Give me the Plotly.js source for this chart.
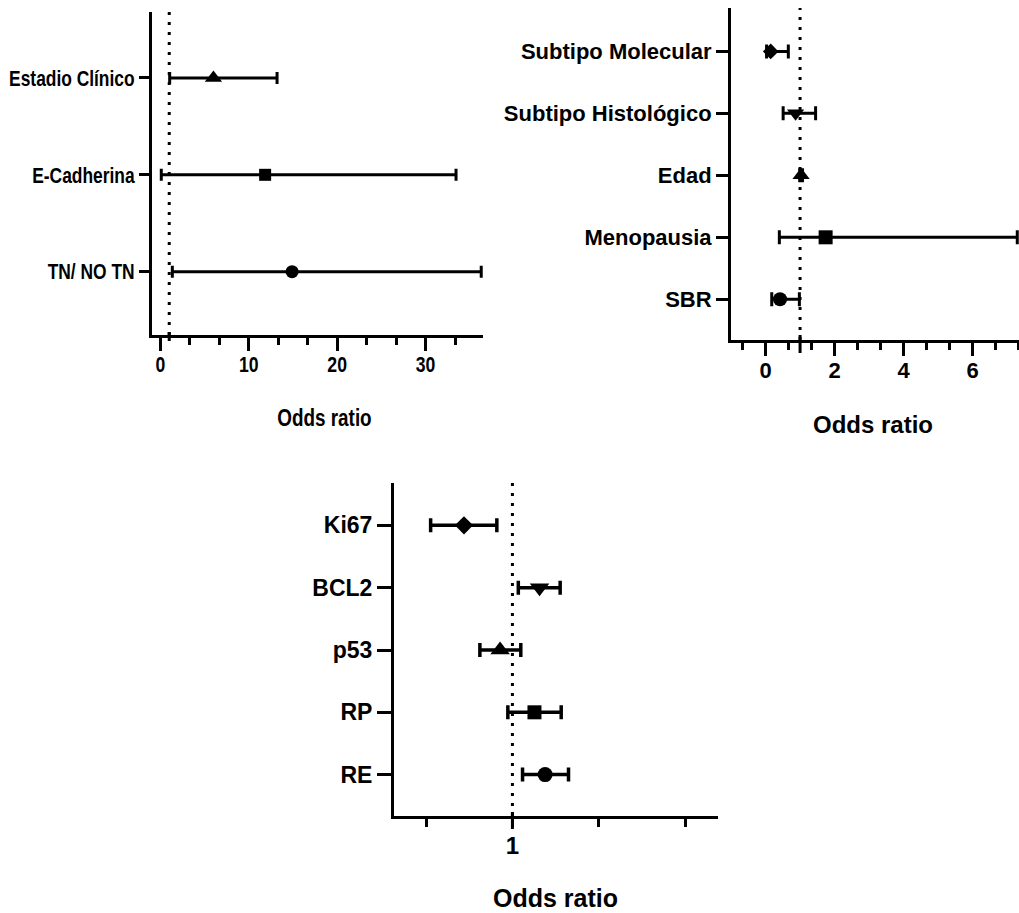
<!DOCTYPE html>
<html>
<head>
<meta charset="utf-8">
<script src="https://cdn.plot.ly/plotly-3.0.1.min.js"></script>
<style>
  html, body { margin: 0; padding: 0; background: #fff; }
  #chart { width: 1019px; height: 913px; }
</style>
</head>
<body>
<div id="chart"></div>
<script>
// Clinical variables (top left)
const catA = ['Estadio Clínico', 'E-Cadherina', 'TN/ NO TN'];
const orA  = [6.0, 11.85, 14.9];
const loA  = [1.05, 0.1, 1.35];
const hiA  = [13.2, 33.45, 36.3];
const symA = ['triangle-up', 'square', 'circle'];
const tickA = [0, 10, 20, 30];

// Clinical / pathological variables (top right)
const catB = ['Subtipo Molecular', 'Subtipo Histológico', 'Edad', 'Menopausia', 'SBR'];
const orB  = [0.15, 0.87, 1.03, 1.74, 0.42];
const loB  = [0.03, 0.51, 0.99, 0.40, 0.18];
const hiB  = [0.66, 1.45, 1.07, 7.29, 0.98];
const symB = ['diamond', 'triangle-down', 'triangle-up', 'square', 'circle'];
const tickB = [0, 2, 4, 6];

// Immunohistochemical markers (bottom, log scale)
const catC = ['Ki67', 'BCL2', 'p53', 'RP', 'RE'];
const orC  = [0.275, 2.06, 0.72, 1.80, 2.39];
const loC  = [0.113, 1.17, 0.42, 0.885, 1.31];
const hiC  = [0.66, 3.57, 1.25, 3.67, 4.46];
const symC = ['diamond', 'triangle-down', 'triangle-up', 'square', 'circle'];
const tickC = [0.1, 1, 10, 100];
const tickTextC = ['', '1', '', ''];

const W = 1019, H = 913;
const px = v => v / W;           // horizontal pixel -> paper
const py = v => 1 - v / H;       // vertical pixel -> paper

const rowPos = cats => cats.map((_, i) => cats.length - i);

function forest(cats, or, lo, hi, sym, xa, ya, size, thick, cap) {
  return {
    type: 'scatter', mode: 'markers',
    x: or, y: rowPos(cats), xaxis: xa, yaxis: ya,
    marker: { symbol: sym, size: size, color: '#000', opacity: 1, line: { width: 0 } },
    error_x: {
      type: 'data', symmetric: false,
      array: or.map((v, i) => hi[i] - v),
      arrayminus: or.map((v, i) => v - lo[i]),
      color: '#000', thickness: thick, width: cap
    },
    hoverinfo: 'x+y', showlegend: false, cliponaxis: false
  };
}

const sans = 'Liberation Sans, Arial, sans-serif';

const traces = [
  forest(catA, orA, loA, hiA, symA, 'x', 'y', [15, 12, 13], 3, 6),
  forest(catB, orB, loB, hiB, symB, 'x2', 'y2', [12, 15, 15, 14, 14], 3, 7),
  forest(catC, orC, loC, hiC, symC, 'x3', 'y3', [14, 17, 17, 14, 15], 3.5, 7)
];

const axLine = { showline: true, linecolor: '#000', linewidth: 3, zeroline: false,
                 showgrid: false, ticks: 'outside', tickcolor: '#000', tickwidth: 3 };

// Panel frames (pixel positions of the axis lines)
const dA = { l: 152, r: 483, t: 12, b: 335 };
const dB = { l: 731, r: 1019, t: 8, b: 340 };
const dC = { l: 394, r: 718, t: 483, b: 816 };

const layout = {
  width: W, height: H,
  margin: { l: 0, r: 0, t: 0, b: 0 },
  paper_bgcolor: '#fff', plot_bgcolor: '#fff',
  xaxis: Object.assign({}, axLine, {
    domain: [px(dA.l), px(dA.r)], anchor: 'y', range: [-0.95, 36.5],
    tickmode: 'array', tickvals: tickA, ticklen: 13, ticklabelstandoff: -5,
    tickfont: { family: sans, size: 22, color: '#000', weight: 'bold' },
    minor: { tickmode: 'array', tickvals: [10/3, 20/3, 40/3, 50/3, 70/3, 80/3, 100/3],
             ticks: 'outside', ticklen: 7, tickwidth: 3, tickcolor: '#000', showgrid: false }
  }),
  yaxis: Object.assign({}, axLine, {
    domain: [py(dA.b), py(dA.t)], anchor: 'x', range: [0.347, 3.68],
    tickmode: 'array', tickvals: rowPos(catA), ticktext: catA, ticklen: 10,
    tickfont: { family: sans, size: 22, color: '#000', weight: 'bold' }
  }),
  xaxis2: Object.assign({}, axLine, {
    domain: [px(dB.l), px(dB.r)], anchor: 'y2', range: [-1.0, 7.34],
    tickmode: 'array', tickvals: tickB, ticklen: 13, ticklabelstandoff: -4,
    tickfont: { family: sans, size: 22, color: '#000', weight: 'bold' },
    minor: { tickmode: 'array',
             tickvals: [-2/3, 2/3, 4/3, 8/3, 10/3, 14/3, 16/3, 20/3, 22/3],
             ticks: 'outside', ticklen: 7, tickwidth: 3, tickcolor: '#000', showgrid: false }
  }),
  yaxis2: Object.assign({}, axLine, {
    domain: [py(dB.b), py(dB.t)], anchor: 'x2', range: [0.343, 5.70],
    tickmode: 'array', tickvals: rowPos(catB), ticktext: catB, ticklen: 12,
    tickfont: { family: sans, size: 22, color: '#000', weight: 'bold' }
  }),
  xaxis3: Object.assign({}, axLine, {
    domain: [px(dC.l), px(dC.r)], anchor: 'y3', type: 'log', range: [-1.371, 2.38],
    tickmode: 'array', tickvals: tickC, ticktext: tickTextC, ticklen: 8, ticklabelstandoff: -2,
    tickfont: { family: sans, size: 24, color: '#000', weight: 'bold' }
  }),
  yaxis3: Object.assign({}, axLine, {
    domain: [py(dC.b), py(dC.t)], anchor: 'x3', range: [0.336, 5.68],
    tickmode: 'array', tickvals: rowPos(catC), ticktext: catC, ticklen: 14,
    tickfont: { family: sans, size: 23, color: '#000', weight: 'bold' }
  }),
  shapes: [
    // reference line at OR = 1
    { type: 'line', xref: 'x', yref: 'y domain', x0: 1, x1: 1, y0: 0, y1: 1,
      line: { color: '#000', width: 3, dash: '3px,7px' }, layer: 'below' },
    { type: 'line', xref: 'x2', yref: 'y2 domain', x0: 1, x1: 1, y0: 0, y1: 1,
      line: { color: '#000', width: 3, dash: '3px,7px' }, layer: 'below' },
    { type: 'line', xref: 'x3', yref: 'y3 domain', x0: 1, x1: 1, y0: 0, y1: 1,
      line: { color: '#000', width: 3, dash: '3px,7px' }, layer: 'below' },
    // short marks where the reference line meets each x axis
    { type: 'line', xref: 'x', yref: 'paper', x0: 1, x1: 1, y0: py(dA.b - 3), y1: py(dA.b + 6),
      line: { color: '#000', width: 3 } },
    { type: 'line', xref: 'x2', yref: 'paper', x0: 1, x1: 1, y0: py(dB.b - 5), y1: py(dB.b + 13),
      line: { color: '#000', width: 3 } },
    { type: 'line', xref: 'x3', yref: 'paper', x0: 1, x1: 1, y0: py(dC.b - 4), y1: py(dC.b + 13),
      line: { color: '#000', width: 3 } }
  ],
  annotations: [
    { text: 'Odds ratio', xref: 'paper', yref: 'paper', x: px(324), y: py(418),
      xanchor: 'center', yanchor: 'middle', showarrow: false,
      font: { family: sans, size: 23, color: '#000', weight: 'bold' } },
    { text: 'Odds ratio', xref: 'paper', yref: 'paper', x: px(873), y: py(424),
      xanchor: 'center', yanchor: 'middle', showarrow: false,
      font: { family: sans, size: 24, color: '#000', weight: 'bold' } },
    { text: 'Odds ratio', xref: 'paper', yref: 'paper', x: px(555), y: py(898),
      xanchor: 'center', yanchor: 'middle', showarrow: false,
      font: { family: sans, size: 25, color: '#000', weight: 'bold' } }
  ]
};

// The top-left panel uses condensed lettering: squeeze its texts horizontally.
function condense(nodes, factor) {
  nodes.forEach(t => {
    const len = t.getComputedTextLength();
    t.setAttribute('textLength', (len * factor).toFixed(1));
    t.setAttribute('lengthAdjust', 'spacingAndGlyphs');
  });
}

Plotly.newPlot('chart', traces, layout, { displayModeBar: false, staticPlot: true })
  .then(gd => {
    condense(gd.querySelectorAll('.subplot.xy .yaxislayer-above text'), 0.79);
    condense(gd.querySelectorAll('.subplot.xy .xaxislayer-above text'), 0.8);
    const ann = gd.querySelectorAll('.annotation-text');
    if (ann.length) condense([ann[0]], 0.82);
  });
</script>
</body>
</html>
